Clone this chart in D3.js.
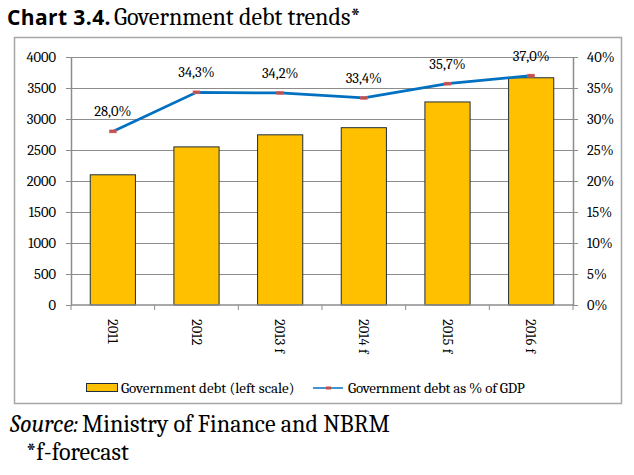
<!DOCTYPE html>
<html>
<head>
<meta charset="utf-8">
<script src="https://cdn.jsdelivr.net/npm/d3@7"></script>
<style>
  body { margin: 0; background: #fff; }
  svg { display: block; }
</style>
</head>
<body>
<svg id="chart" width="634" height="475"></svg>
<script>
const years = ["2011", "2012", "2013 f", "2014 f", "2015 f", "2016 f"]
const debt = [2100, 2550, 2745, 2860, 3275, 3665]
const debtPct = [28.0, 34.3, 34.2, 33.4, 35.7, 37.0]
const leftTicks = [0, 500, 1000, 1500, 2000, 2500, 3000, 3500, 4000]
const rightTicks = [0, 5, 10, 15, 20, 25, 30, 35, 40]

const serif = "Cambria, 'Liberation Serif', serif"
const svg = d3.select("#chart")

const m = {left: 71, right: 61, top: 57, bottom: 170}
const W = 634, H = 475
const iw = W - m.left - m.right
const ih = H - m.top - m.bottom

// title
const title = svg.append("text").attr("x", 7).attr("y", 25)
title.append("tspan").attr("font-family", "'Open Sans', sans-serif").attr("font-weight", 700)
  .attr("font-size", 21).attr("letter-spacing", 0.4).text("Chart 3.4.")
title.append("tspan").attr("font-family", serif).attr("font-size", 24).attr("dx", 3)
  .text("Government debt trends*")

// chart frame
svg.append("rect").attr("x", 14.5).attr("y", 37.5).attr("width", 607).attr("height", 366)
  .attr("fill", "none").attr("stroke", "#a6a6a6").attr("stroke-width", 1.5)

const g = svg.append("g").attr("transform", `translate(${m.left},${m.top})`)

const x = d3.scaleBand().domain(years).range([0, iw]).paddingInner(0.46).paddingOuter(0.23)
const xTick = d3.scaleBand().domain(years).range([0, iw])
const y = d3.scaleLinear().domain([0, 4000]).range([ih, 0])
const y2 = d3.scaleLinear().domain([0, 40]).range([ih, 0])

// gridlines
g.append("g").selectAll("line").data(leftTicks.slice(1)).join("line")
  .attr("x1", 0).attr("x2", iw)
  .attr("y1", (d) => Math.round(y(d)) + 0.5).attr("y2", (d) => Math.round(y(d)) + 0.5)
  .attr("stroke", "#8c8c8c").attr("stroke-width", 1)

const styleAxis = (gg) => {
  gg.select(".domain").attr("stroke", "#8c8c8c").attr("stroke-width", 1.5)
  gg.selectAll(".tick line").attr("stroke", "#8c8c8c")
  gg.selectAll("text").attr("font-family", serif).attr("font-size", 14.5).attr("fill", "#000")
}

// bars
g.append("g").selectAll("rect").data(debt).join("rect")
  .attr("x", (d, i) => x(years[i]))
  .attr("y", (d) => y(d))
  .attr("width", x.bandwidth())
  .attr("height", (d) => ih - y(d))
  .attr("fill", "#ffc000").attr("stroke", "#1f2d3d").attr("stroke-width", 1)

// axes
g.append("g")
  .call(d3.axisLeft(y).tickValues(leftTicks).tickSize(5).tickSizeOuter(0).tickPadding(10)
    .tickFormat(d3.format("d")))
  .call(styleAxis)

g.append("g").attr("transform", `translate(${iw},0)`)
  .call(d3.axisRight(y2).tickValues(rightTicks).tickSize(5).tickSizeOuter(0).tickPadding(9)
    .tickFormat((d) => d + "%"))
  .call(styleAxis)

const xAxis = g.append("g").attr("transform", `translate(0,${ih})`)
xAxis.append("line").attr("x1", 0).attr("x2", iw).attr("stroke", "#8c8c8c").attr("stroke-width", 1.5)
xAxis.selectAll("line.tk").data(d3.range(years.length + 1)).join("line").attr("class", "tk")
  .attr("x1", (i) => i * xTick.step()).attr("x2", (i) => i * xTick.step())
  .attr("y1", 0).attr("y2", 5).attr("stroke", "#8c8c8c")
xAxis.selectAll("text").data(years).join("text")
  .attr("transform", (d) => `translate(${xTick(d) + xTick.bandwidth() / 2 - 5},14) rotate(90)`)
  .attr("font-family", serif).attr("font-size", 14.5).attr("fill", "#000")
  .text((d) => d)

// line
const line = d3.line()
  .x((d, i) => xTick(years[i]) + xTick.bandwidth() / 2)
  .y((d) => y2(d))
g.append("path").datum(debtPct).attr("d", line)
  .attr("fill", "none").attr("stroke", "#0070c0").attr("stroke-width", 2.75)

g.append("g").selectAll("rect").data(debtPct).join("rect")
  .attr("x", (d, i) => xTick(years[i]) + xTick.bandwidth() / 2 - 3.5)
  .attr("y", (d) => y2(d) - 1.5)
  .attr("width", 7).attr("height", 3)
  .attr("fill", "#c0504d").attr("stroke", "#e06666").attr("stroke-width", 0.5)

g.append("g").selectAll("text").data(debtPct).join("text")
  .attr("x", (d, i) => xTick(years[i]) + xTick.bandwidth() / 2)
  .attr("y", (d) => y2(d) - 15)
  .attr("text-anchor", "middle")
  .attr("font-family", serif).attr("font-size", 14.5).attr("fill", "#000")
  .text((d) => d.toFixed(1).replace(".", ",") + "%")

// legend
const lg = svg.append("g").attr("transform", "translate(86,388)")
lg.append("rect").attr("x", 0.5).attr("y", -4.5).attr("width", 31).attr("height", 8)
  .attr("fill", "#ffc000").attr("stroke", "#1f2d3d").attr("stroke-width", 1)
lg.append("text").attr("x", 35).attr("y", 5).attr("font-family", serif).attr("font-size", 15)
  .text("Government debt (left scale)")
lg.append("line").attr("x1", 227).attr("x2", 257).attr("y1", 0).attr("y2", 0)
  .attr("stroke", "#0070c0").attr("stroke-width", 1.5)
lg.append("rect").attr("x", 240).attr("y", -1.5).attr("width", 5).attr("height", 3).attr("fill", "#c0504d")
lg.append("text").attr("x", 262).attr("y", 5).attr("font-family", serif).attr("font-size", 15)
  .attr("letter-spacing", -0.2).text("Government debt as % of GDP")

// source notes
const src = svg.append("text").attr("x", 10).attr("y", 432).attr("font-family", serif).attr("font-size", 24)
src.append("tspan").attr("font-style", "italic").text("Source:")
src.append("tspan").attr("dx", 4).text("Ministry of Finance and NBRM")
svg.append("text").attr("x", 26).attr("y", 460).attr("font-family", serif).attr("font-size", 24)
  .text("*f-forecast")
</script>
</body>
</html>
